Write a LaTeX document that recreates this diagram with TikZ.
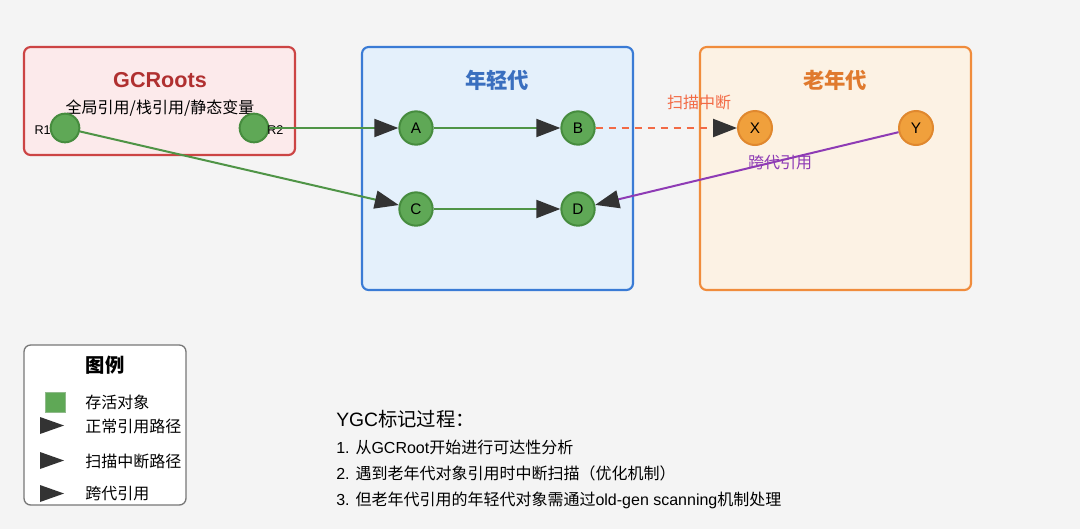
\documentclass[tikz,border=0pt]{standalone}
\usepackage{fontspec}
\setmainfont{Liberation Sans}
\newfontfamily\cjk{Noto Sans CJK SC}
\usetikzlibrary{arrows.meta}
\definecolor{bg}{HTML}{F4F4F4}
\definecolor{rootline}{HTML}{CC4444}
\definecolor{rootfill}{HTML}{FCEAEB}
\definecolor{roottext}{HTML}{B03030}
\definecolor{youngline}{HTML}{3A7BD5}
\definecolor{youngfill}{HTML}{E4F0FB}
\definecolor{youngtext}{HTML}{3A6FBF}
\definecolor{oldline}{HTML}{F08C3C}
\definecolor{oldfill}{HTML}{FCF2E4}
\definecolor{oldtext}{HTML}{E07A2E}
\definecolor{objfill}{HTML}{5FA856}
\definecolor{objline}{HTML}{468C3E}
\definecolor{oldobjfill}{HTML}{F0A03C}
\definecolor{oldobjline}{HTML}{E0882E}
\definecolor{refgreen}{HTML}{4F9446}
\definecolor{scanred}{HTML}{F26A45}
\definecolor{crosspurple}{HTML}{8E3BB5}
\definecolor{tipgray}{HTML}{333333}
\definecolor{legendline}{HTML}{777777}
\begin{document}
\begin{tikzpicture}[x=0.75pt,y=-0.75pt,
  region/.style={rounded corners=5pt,line width=1.6pt},
  obj/.style={circle,minimum size=25pt,inner sep=0pt,fill=objfill,draw=objline,line width=1.5pt,font=\fontsize{11.5}{13}\selectfont},
  oldobj/.style={circle,minimum size=25.5pt,inner sep=0pt,fill=oldobjfill,draw=oldobjline,line width=1.5pt,font=\fontsize{11.5}{13}\selectfont},
  reftip/.style={-{Triangle[length=18pt,width=13.5pt,color=tipgray]}},
  refline/.style={draw=refgreen,line width=1.5pt,reftip},
  titlefont/.style={font=\cjk\bfseries\fontsize{16}{19}\selectfont},
  legtext/.style={anchor=west,font=\cjk\fontsize{12}{14}\selectfont},
  steptext/.style={anchor=west,font=\fontsize{12}{14}\selectfont}
]
\useasboundingbox (0,0) rectangle (1080,529);
\fill[bg] (0,0) rectangle (1080,529);

% regions
\draw[region,draw=rootline,fill=rootfill] (24,47) rectangle (295,155);
\draw[region,draw=youngline,fill=youngfill] (362,47) rectangle (633,290);
\draw[region,draw=oldline,fill=oldfill] (700,47) rectangle (971,290);

\node[font=\bfseries\fontsize{16.2}{19}\selectfont,text=roottext] (rt) at (160,80) {GCRoots};
\node[font=\cjk\fontsize{12}{14}\selectfont] (rs) at (160,108) {全局引用/栈引用/静态变量};
\node[titlefont,text=youngtext] (yt) at (497,80) {年轻代};
\node[titlefont,text=oldtext] (ot) at (835,80) {老年代};

% objects
\node[obj,minimum size=21.5pt] (R1) at (65,128) {};
\node[obj,minimum size=21.5pt] (R2) at (254,128) {};
\node[anchor=east,font=\fontsize{9.5}{11}\selectfont,inner sep=0pt] (R1l) at (51,130) {R1};
\node[anchor=west,font=\fontsize{9.5}{11}\selectfont,inner sep=0pt] (R2l) at (267,130) {R2};

\node[obj] (A) at (416,128) {A};
\node[obj] (B) at (578,128) {B};
\node[obj] (C) at (416,209) {C};
\node[obj] (D) at (578,209) {D};
\node[oldobj] (X) at (755,128) {X};
\node[oldobj] (Y) at (916,128) {Y};

% connectors
\draw[refline] (R2) -- (A);
\draw[refline] (R1) -- (C);
\draw[refline] (A) -- (B);
\draw[refline] (C) -- (D);
\draw[draw=scanred,line width=1.7pt,dash pattern=on 5.25pt off 4.5pt,reftip] (B) -- (X);
\draw[draw=crosspurple,line width=1.5pt,reftip] (Y) -- (D);

\node[font=\cjk\fontsize{12}{14}\selectfont,text=scanred] (scanl) at (699,102) {扫描中断};
\node[font=\cjk\fontsize{12}{14}\selectfont,text=crosspurple] (crossl) at (780,163) {跨代引用};

% legend
\draw[rounded corners=5pt,draw=legendline,fill=white,line width=1pt] (24,345) rectangle (186,505);
\node[font=\cjk\bfseries\fontsize{14.5}{17}\selectfont] (lt) at (105,365) {图例};
\draw[fill=objfill,draw=objline!60,line width=0.6pt] (45,392) rectangle (65,412);
\node[legtext,inner sep=0pt] (l1) at (85,402) {存活对象};
\fill[tipgray] (40,417) -- (64,425.5) -- (40,434) -- cycle;
\node[legtext,inner sep=0pt] (l2) at (85,426) {正常引用路径};
\fill[tipgray] (40,452) -- (64,460.5) -- (40,469) -- cycle;
\node[legtext,inner sep=0pt] (l3) at (85,461) {扫描中断路径};
\fill[tipgray] (40,485) -- (64,493.5) -- (40,502) -- cycle;
\node[legtext,inner sep=0pt] (l4) at (85,494) {跨代引用};

% process text
\node[anchor=west,inner sep=0pt,font=\fontsize{14.5}{17}\selectfont] (s0) at (336,419) {YGC{\cjk 标记过程：}};
\node[steptext,inner sep=0pt] (s1) at (336,447) {1. {\cjk 从}GCRoot{\cjk 开始进行可达性分析}};
\node[steptext,inner sep=0pt] (s2) at (336,473) {2. {\cjk 遇到老年代对象引用时中断扫描（优化机制）}};
\node[steptext,inner sep=0pt] (s3) at (336,500) {3. {\cjk 但老年代引用的年轻代对象需通过}old-gen scanning{\cjk 机制处理}};
\end{tikzpicture}
\end{document}
